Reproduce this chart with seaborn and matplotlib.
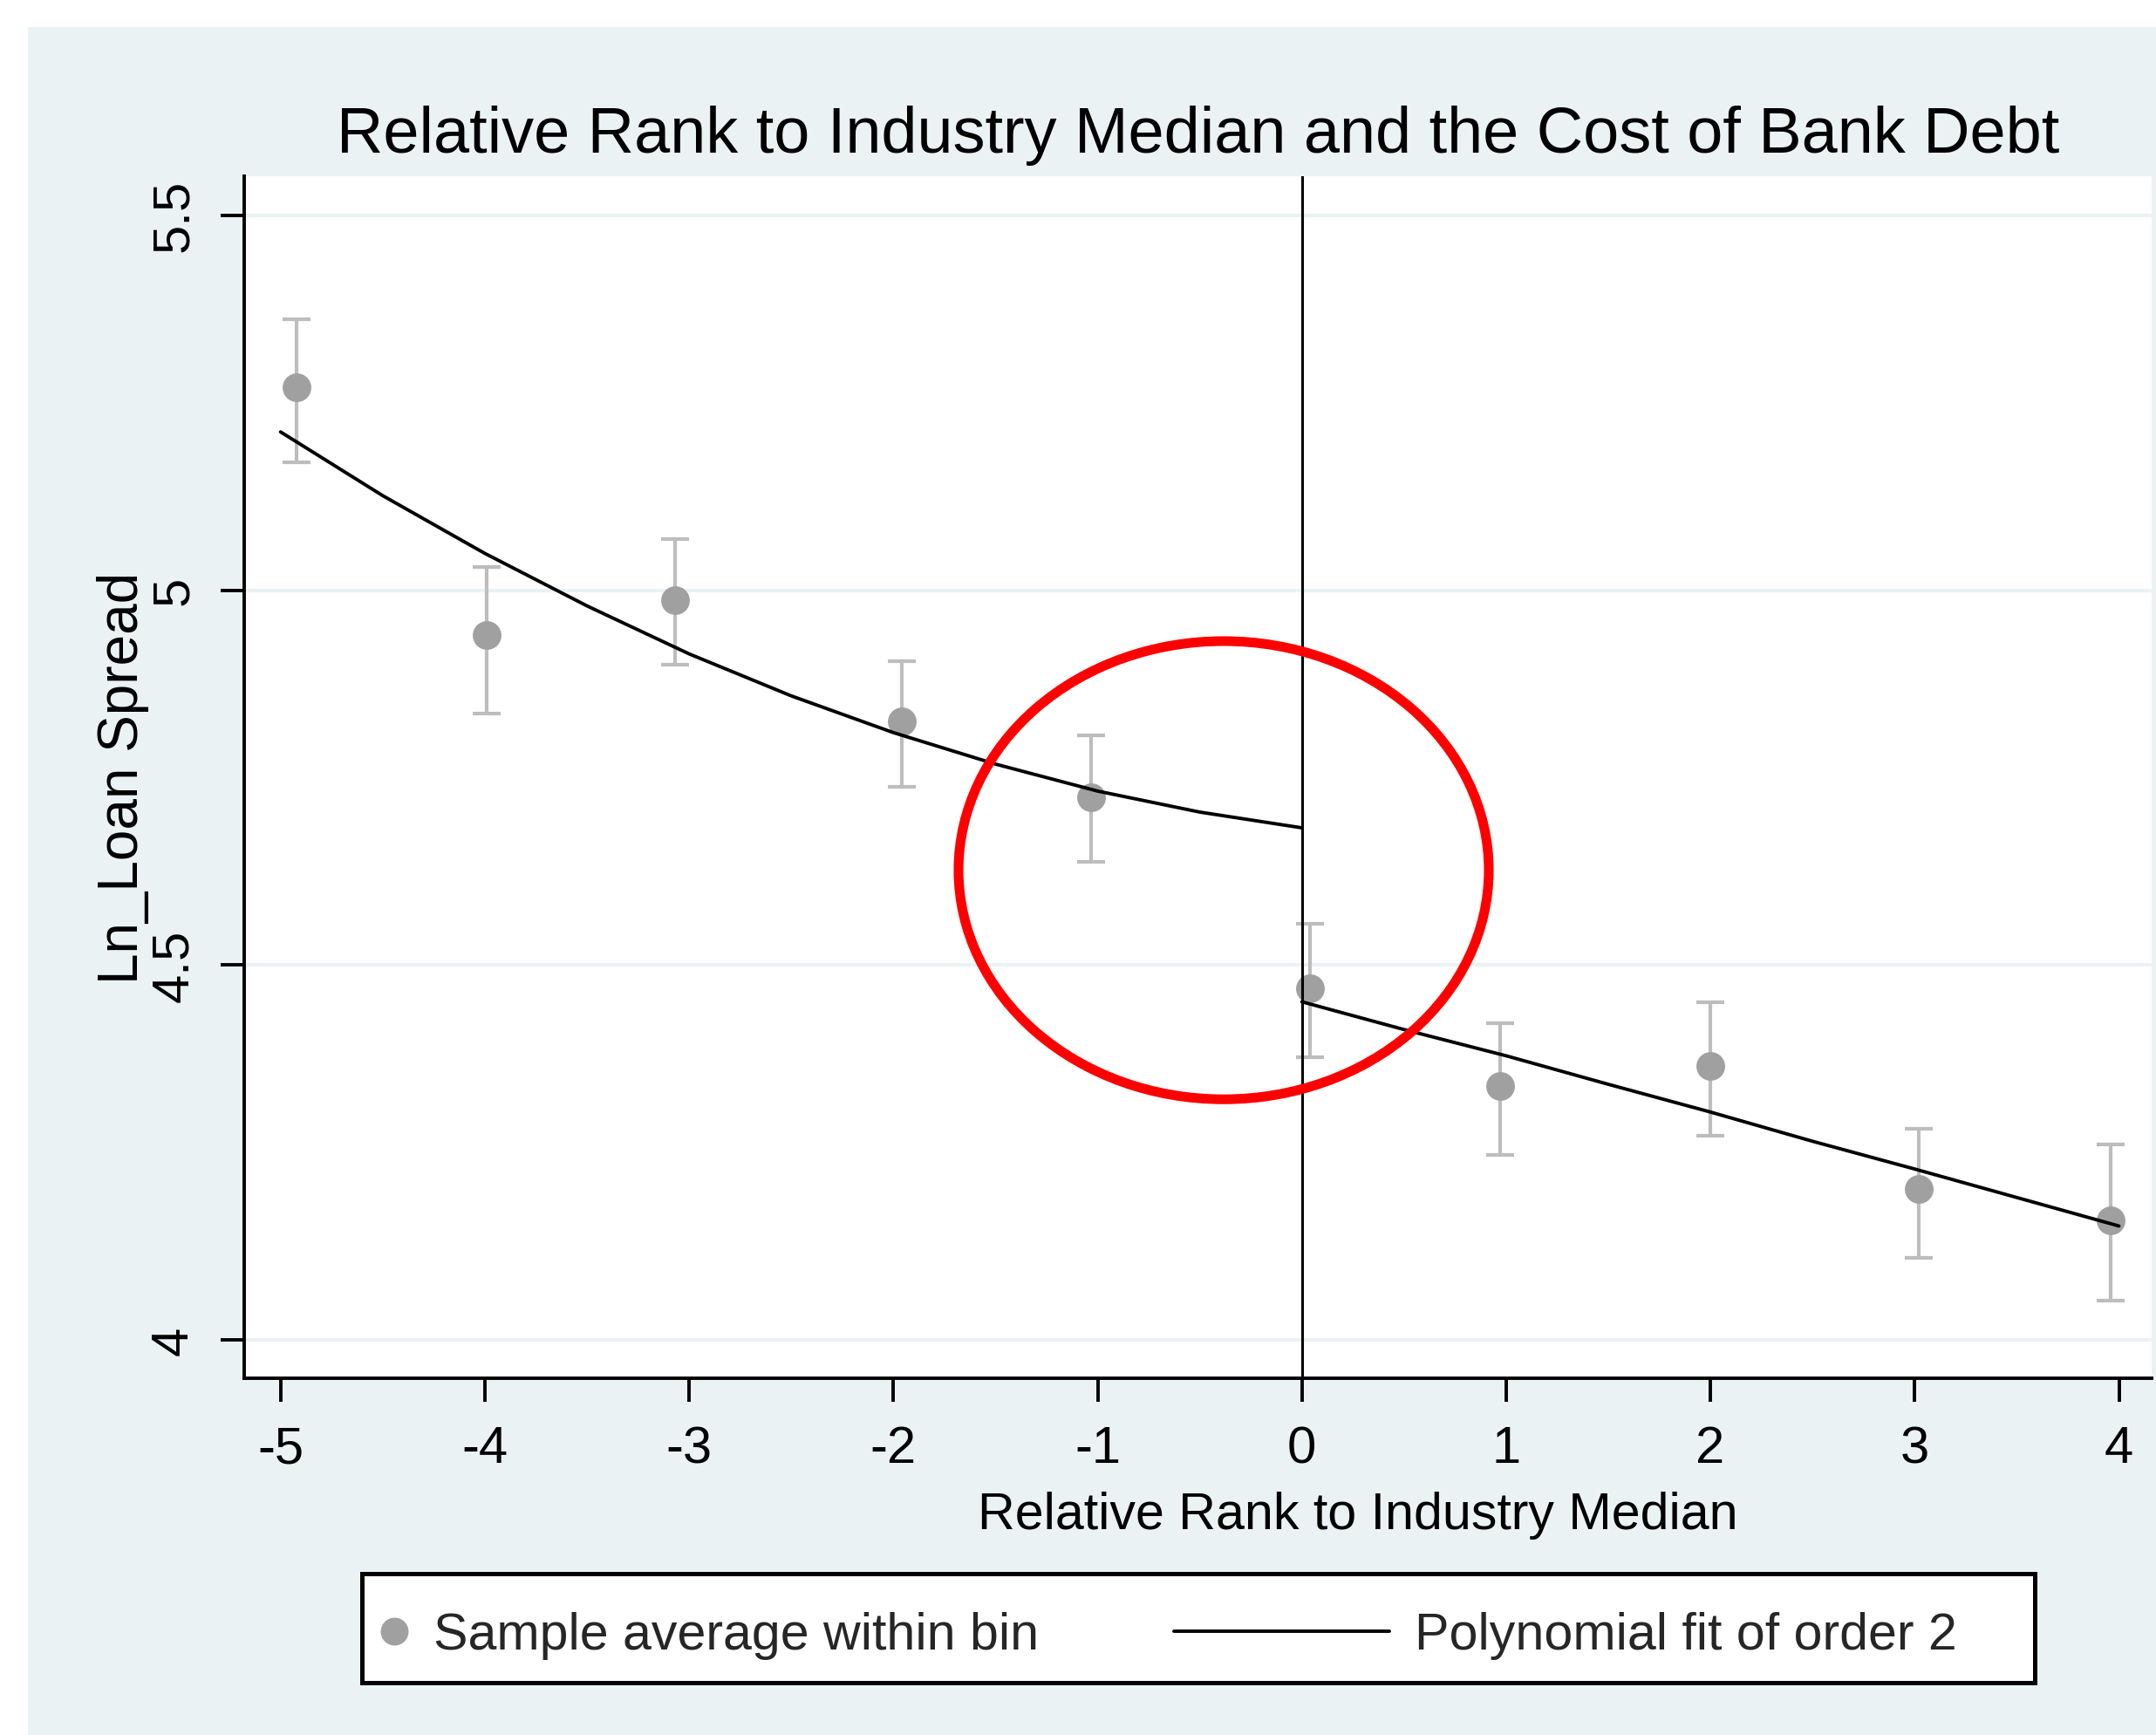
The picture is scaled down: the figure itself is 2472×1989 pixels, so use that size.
import numpy as np
import pandas as pd
import matplotlib
matplotlib.use("Agg")
import matplotlib.pyplot as plt
import seaborn as sns
from matplotlib.patches import Ellipse, Rectangle
from matplotlib.lines import Line2D
from matplotlib.legend_handler import HandlerLine2D
from matplotlib.font_manager import FontProperties, fontManager

# sample averages within bins and their confidence bands
bin_x = [-4.92, -3.99, -3.07, -1.96, -1.03, 0.04, 0.97, 2.00, 3.02, 3.96]
bin_mean = [5.270, 4.940, 4.987, 4.825, 4.724, 4.469, 4.339, 4.365, 4.201, 4.159]
ci_low = [5.171, 4.836, 4.900, 4.738, 4.638, 4.377, 4.247, 4.272, 4.109, 4.052]
ci_high = [5.361, 5.031, 5.068, 4.905, 4.806, 4.555, 4.423, 4.450, 4.282, 4.261]

# polynomial fit (order 2) on each side of the median
fit_left_x = [-5, -4.5, -4, -3.5, -3, -2.5, -2, -1.5, -1, -0.5, 0]
fit_left_y = [5.211, 5.126, 5.049, 4.979, 4.915, 4.859, 4.810, 4.768, 4.732, 4.704, 4.683]
fit_right_x = [0, 0.5, 1, 1.5, 2, 2.5, 3, 3.5, 4]
fit_right_y = [4.451, 4.414, 4.379, 4.341, 4.304, 4.265, 4.228, 4.190, 4.152]

x_ticks = [-5, -4, -3, -2, -1, 0, 1, 2, 3, 4]
y_ticks = [4, 4.5, 5, 5.5]
y_tick_labels = ['4', '4.5', '5', '5.5']

title = 'Relative Rank to Industry Median and the Cost of Bank Debt'
xlabel = 'Relative Rank to Industry Median'
ylabel = 'Ln_Loan Spread'
legend_labels = ['Sample average within bin', 'Polynomial fit of order 2']

# red circle drawn around the jump at zero
circle_center = (-0.383, 4.6265)
circle_width = 2.596
circle_height = 0.611

panel = '#EAF2F3'
marker_grey = '#A0A0A0'
bar_grey = '#BDBDBD'

sns.set_theme(style='white')
plt.rcParams['font.family'] = ['Liberation Sans', 'DejaVu Sans']
plt.rcParams['axes.unicode_minus'] = False

installed = {f.name for f in fontManager.ttflist}
if 'Liberation Sans Narrow' in installed:
    cond_font = ['Liberation Sans Narrow', 'Liberation Sans']
    cond_size = 26
else:
    cond_font = ['Liberation Sans', 'DejaVu Sans']
    cond_size = 21.3

W, H, DPI = 2472, 1990, 200
fig = plt.figure(figsize=(W / DPI, H / DPI), dpi=DPI, facecolor='white')
fig.add_artist(Rectangle((32 / W, 0), 1 - 32 / W, 1 - 32 / H, transform=fig.transFigure,
                         facecolor=panel, edgecolor='none', zorder=-5))
ax = fig.add_axes([280 / W, (H - 1581) / H, (2467 - 280) / W, (1581 - 203) / H])
ax.set_facecolor('white')

lo = np.array(bin_mean) - np.array(ci_low)
hi = np.array(ci_high) - np.array(bin_mean)
ax.errorbar(bin_x, bin_mean, yerr=[lo, hi], fmt='none', ecolor=bar_grey,
            elinewidth=1.5, capsize=5.8, capthick=1.5, zorder=2)
sns.scatterplot(x=bin_x, y=bin_mean, color=marker_grey, s=140, linewidth=0,
                ax=ax, zorder=3, legend=False)

fit_df = pd.concat([
    pd.DataFrame({'x': fit_left_x, 'y': fit_left_y, 'side': 'below'}),
    pd.DataFrame({'x': fit_right_x, 'y': fit_right_y, 'side': 'above'}),
])
sns.lineplot(data=fit_df, x='x', y='y', units='side', estimator=None,
             color='black', lw=1.4, ax=ax, zorder=4, legend=False)

ax.axvline(0, color='black', lw=1.1, zorder=3.5)
ax.add_patch(Ellipse(circle_center, circle_width, circle_height, fill=False,
                     edgecolor='#FF0000', lw=4, zorder=5))

ax.set_xlim(-5.178, 4.160)
ax.set_ylim(3.949, 5.552)
ax.set_xticks(x_ticks)
ax.set_xticklabels([str(t) for t in x_ticks], fontsize=21.5)
ax.set_yticks(y_ticks)
ax.set_yticklabels(y_tick_labels, rotation=90, va='center', fontsize=21.5)
ax.tick_params(axis='both', which='major', direction='out', length=9.7, width=1.4,
               color='black', pad=9.5, bottom=True, left=True, labelcolor='black')

ax.set_axisbelow(True)
ax.yaxis.grid(True, color=panel, lw=1.4)
ax.xaxis.grid(False)
for side in ['top', 'right']:
    ax.spines[side].set_visible(False)
for side in ['left', 'bottom']:
    ax.spines[side].set_color('black')
    ax.spines[side].set_linewidth(1.4)

ax.set_title(title, fontsize=26.6, pad=10, color='black')
ax.set_xlabel(xlabel, fontsize=cond_size, family=cond_font, color='black')
ax.xaxis.set_label_coords(0.584, -0.0935)
ax.set_ylabel(ylabel, fontsize=23, color='black')
ax.yaxis.set_label_coords(-0.0498, 0.5)

# legend box below the plot (frame drawn separately to match the wide box)
fig.add_artist(Rectangle((415 / W, 1 - 1930 / H), (2333 - 415) / W, (1930 - 1805) / H,
                         transform=fig.transFigure, facecolor='white', edgecolor='black',
                         lw=1.8, zorder=1))
Fpx = cond_size * DPI / 72
pt_handle = Line2D([], [], marker='o', ls='none', color=marker_grey,
                   markersize=11.5, markeredgewidth=0)
ln_handle = Line2D([], [], color='black', lw=1.4)
leg = fig.legend(handles=[pt_handle, ln_handle], labels=legend_labels, ncol=2,
                 loc='center left', bbox_to_anchor=(415 / W, 1 - 1876 / H),
                 bbox_transform=fig.transFigure, borderaxespad=0,
                 borderpad=21 / Fpx, handlelength=32 / Fpx, handletextpad=29 / Fpx,
                 columnspacing=370 / Fpx,
                 prop=FontProperties(family=cond_font, size=cond_size),
                 frameon=False,
                 handler_map={ln_handle: HandlerLine2D(xpad=-215 / Fpx)})
leg.set_zorder(6)

fig.savefig('out.png', dpi=DPI)
